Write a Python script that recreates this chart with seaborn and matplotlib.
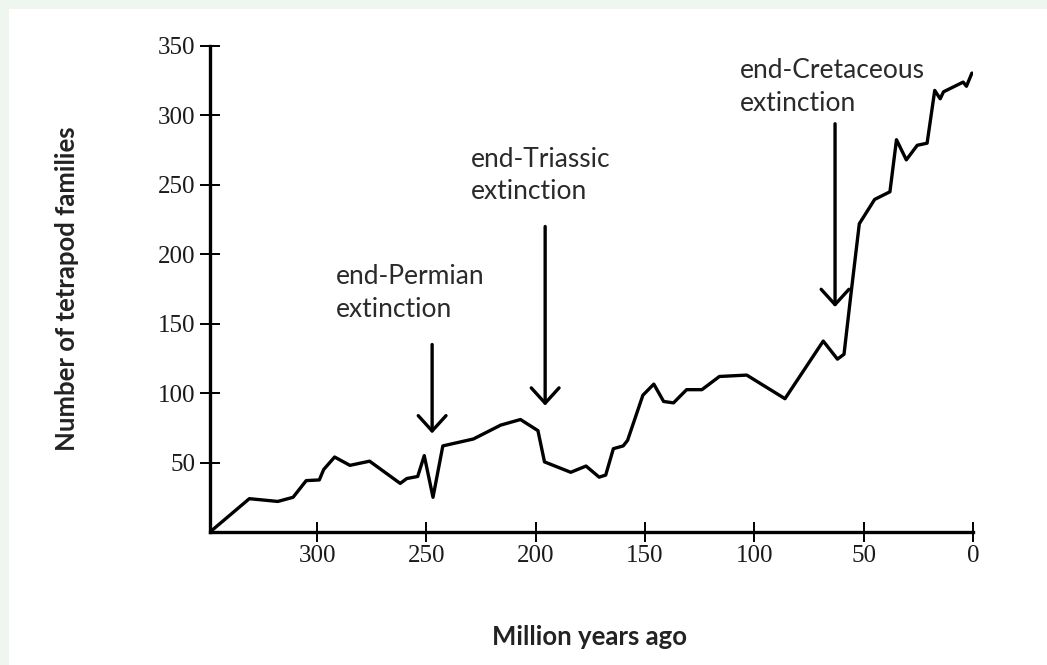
import matplotlib
matplotlib.use("Agg")
import matplotlib.pyplot as plt
from matplotlib.patches import Rectangle
import seaborn as sns
import pandas as pd

# Tetrapod family diversity through time (millions of years ago)
years = [349, 331, 318, 311, 305, 299, 297, 292, 285, 276, 262, 259, 254, 251,
         247, 242.5, 228.5, 216, 207, 199, 196, 184, 177, 171, 168, 164.5, 160,
         158, 151, 146, 141.5, 137, 131, 124, 116, 103.5, 86, 68.5, 62, 59, 56,
         52, 45, 38, 35, 30.5, 25.5, 21, 17.5, 15, 13.5, 4.5, 3, 0.5]
families = [0, 24, 22, 25, 37, 37.5, 45, 54, 48, 51, 35, 38.5, 40, 55,
            25, 62, 67, 77, 81, 73, 50.5, 43, 47.5, 39.5, 41, 60, 62,
            66, 98.5, 106.5, 94, 93, 102.5, 102.5, 112, 113, 96, 137.5, 124.5, 128, 169,
            222, 239.5, 245, 282.5, 268, 278.5, 280, 318, 312, 317, 324, 321, 330.5]

x_ticks = [300, 250, 200, 150, 100, 50, 0]
y_ticks = [50, 100, 150, 200, 250, 300, 350]

# Extinction events: label, time, arrow tip, arrow tail, label anchor (x, y)
event_labels = ["end-Permian\nextinction", "end-Triassic\nextinction",
                "end-Cretaceous\nextinction"]
event_times = [247.4, 195.7, 63.1]
arrow_tips = [71, 91, 162]
arrow_tails = [135, 220, 294]
label_x = [291.5, 229.5, 106.5]
label_y = [193, 277.5, 341]

df = pd.DataFrame({"Million years ago": years, "Number of tetrapod families": families})

sns.set_style("white")
plt.rcParams["font.family"] = ["Lato", "DejaVu Sans"]

fig = plt.figure(figsize=(10.47, 6.65), dpi=100, facecolor="#eef6ef")
fig.patches.append(Rectangle((9 / 1047, 0), 1, 1 - 9 / 665, transform=fig.transFigure,
                             facecolor="white", edgecolor="none", zorder=-1))
ax = fig.add_axes([210 / 1047, 1 - 532 / 665, (973 - 210) / 1047, (532 - 46) / 665])
ax.set_facecolor("none")

sns.lineplot(data=df, x="Million years ago", y="Number of tetrapod families",
             sort=False, color="black", linewidth=2.4, ax=ax)

ax.set_xlim(349, 0)
ax.set_ylim(0, 350)
ax.set_xticks(x_ticks)
ax.set_yticks(y_ticks)

for side in ["top", "right"]:
    ax.spines[side].set_visible(False)
for side in ["left", "bottom"]:
    ax.spines[side].set_linewidth(2.4)
    ax.spines[side].set_color("black")

ax.tick_params(axis="both", direction="inout", length=15, width=1.4, color="black",
               labelsize=18, labelcolor="#1a1a1a", bottom=True, left=True)
ax.tick_params(axis="y", pad=3)
ax.tick_params(axis="x", pad=2)
for lbl in ax.get_xticklabels() + ax.get_yticklabels():
    lbl.set_family("Liberation Serif")

ax.set_xlabel("Million years ago", fontsize=18.5, fontweight="bold", color="#222222",
              va="center")
ax.xaxis.set_label_coords(0.497, (532 - 637) / 486)
ax.set_ylabel("Number of tetrapod families", fontsize=18.5, fontweight="bold",
              color="#222222", va="center")
ax.yaxis.set_label_coords((67 - 210) / 763, 0.5)

for text, t, tip, tail, lx, ly in zip(event_labels, event_times, arrow_tips,
                                      arrow_tails, label_x, label_y):
    ax.annotate("", xy=(t, tip), xytext=(t, tail),
                arrowprops=dict(arrowstyle="->,head_width=0.5,head_length=0.55",
                                lw=2.4, color="black", mutation_scale=20,
                                shrinkA=0, shrinkB=0))
    ax.text(lx, ly, text, ha="left", va="top", fontsize=19, color="#2a2a2a",
            linespacing=1.38)

fig.savefig("out.png", dpi=100, facecolor=fig.get_facecolor())
